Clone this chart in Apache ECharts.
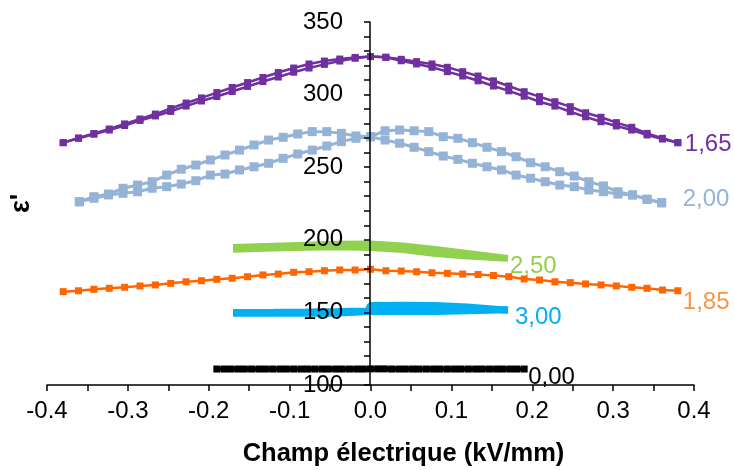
<!DOCTYPE html>
<html><head><meta charset="utf-8">
<script src="https://cdn.jsdelivr.net/npm/echarts@6/dist/echarts.min.js"></script>
<style>html,body{margin:0;padding:0;background:#fff}#c{width:734px;height:470px}</style>
</head><body><div id="c"></div>
<script>
// x grids (kV/mm)
const xPurpleOrange = [-0.38,-0.361,-0.342,-0.323,-0.304,-0.285,-0.266,-0.247,-0.228,-0.209,-0.19,-0.171,-0.152,-0.133,-0.114,-0.095,-0.076,-0.057,-0.038,-0.019,0,0.019,0.038,0.057,0.076,0.095,0.114,0.133,0.152,0.171,0.19,0.209,0.228,0.247,0.266,0.285,0.304,0.323,0.342,0.361,0.38];
const xLightBlue = [-0.36,-0.342,-0.324,-0.306,-0.288,-0.27,-0.252,-0.234,-0.216,-0.198,-0.18,-0.162,-0.144,-0.126,-0.108,-0.09,-0.072,-0.054,-0.036,-0.018,0,0.018,0.036,0.054,0.072,0.09,0.108,0.126,0.144,0.162,0.18,0.198,0.216,0.234,0.252,0.27,0.288,0.306,0.324,0.342,0.36];
const xBlack = [-0.19,-0.181,-0.173,-0.164,-0.156,-0.147,-0.138,-0.130,-0.121,-0.112,-0.104,-0.095,-0.086,-0.078,-0.069,-0.060,-0.052,-0.043,-0.035,-0.026,-0.017,-0.009,0,0.009,0.017,0.026,0.035,0.043,0.052,0.060,0.069,0.078,0.086,0.095,0.104,0.112,0.121,0.130,0.138,0.147,0.156,0.164,0.173,0.181,0.19];
const xGreen = [-0.17,-0.12,-0.08,-0.04,0,0.04,0.08,0.12,0.17];
const xBlueUpper = [-0.17,-0.12,-0.08,-0.04,-0.003,0,0.04,0.08,0.12,0.17];
const xBlueLower = [-0.17,-0.12,-0.08,-0.04,0,0.04,0.08,0.12,0.17];

// epsilon' values
const p165_up = [266.9,270.1,273.2,276.3,279.8,283.2,286.6,290.4,294.2,297.7,301.4,304.9,308.3,311.8,315.2,318.3,321.1,323.1,324.5,325.6,326.2,
  325.7,323.3,321.1,318.8,315.8,312.8,309.5,305.9,302.6,298.9,295.1,292.1,288.2,284.7,281.3,278.4,275.6,272.2,269.4,266.9];
const p165_down = [266.9,269.9,272.7,275.6,278.7,282.2,285.3,288.4,292.1,295.6,298.7,302.1,305.6,309,312.1,315.4,318.3,320.8,323.1,325,326.2,
  325.7,324.3,322.7,321.1,318.8,315.8,312.8,309.5,305.9,302,298.6,295.1,291.7,287.5,284.4,280.7,277.5,273.3,269.9,266.9];
const p200_a = [226.2,229.7,231.5,235.5,237.7,240,244.6,248.6,251.5,255,258.4,261.8,265.3,268.7,270.6,272.9,274.5,274.5,273.3,271.5,271,
  268.7,266.5,263.7,260.7,257.7,255.4,252.7,250.3,248.1,244.6,242.4,240,237.7,236.6,234.3,233.1,231.5,230.9,227.9,225.5];
const p200_b = [226.2,228.6,230.9,232,233.1,235.5,236.6,238.4,240.7,244.6,245.3,248.1,250.3,252.7,256.1,259.1,261.8,264.6,267.6,269.9,271,
  275.1,275.6,275.1,274.5,271,269.9,266.9,263.7,260.7,257.2,253.1,250.3,246.9,243.9,240,237.1,233.1,230.9,227.9,225.5];
const p250_top = [195,195.9,196.6,197.2,197.5,196.1,193.7,190.9,187.5];
const p250_bot = [193.2,194,194.6,194.9,194.4,193,190.2,188.5,187];
const p185 = [164.3,164.9,165.9,166.6,167.3,168.2,168.9,170,171.1,171.8,172.8,173.5,174.6,175.8,176.4,177.6,178,178.7,179.2,179.2,179.7,
  178.7,178.5,178,177.3,176.9,176.4,176.1,175.4,174.6,173,172.3,171.1,170.5,169.6,168.9,168.2,167.3,166.6,165.4,164.9];
const p300_up = [149.9,150.1,150.3,150.6,151,154.8,155,154.8,153.7,151.5];
const p300_low = [149.5,149.5,149.5,149.5,150.6,150.6,150.7,151.1,151.8];
const p000 = [111,111,111,111,111,111,111,111,111,111,111,111,111,111,111,111,111,111,111,111,111,111,111.1,111.1,111.1,111,111,111,111,111,111,111,111,111,111,111,111,111,111,111,111,111,111,111,111];

const labels = {p165:'1,65', p200:'2,00', p250:'2,50', p185:'1,85', p300:'3,00', p000:'0,00'};

const zip = (xs, ys) => xs.map((x, i) => [x, ys[i]]);
const FONT = 'Liberation Sans';

function lineSeries(data, color, o) {
  const s = {
    type: 'line', data: data, color: color,
    symbol: o.symbol || 'rect', symbolSize: o.size || 7,
    showSymbol: o.showSymbol !== false,
    lineStyle: {color: color, width: o.width || 2.5},
    itemStyle: {color: color},
    z: o.z || 2, silent: true
  };
  if (o.label) {
    s.endLabel = {show: true, formatter: o.label, color: o.labelColor || color,
      fontFamily: FONT, fontSize: 24, distance: o.dist || 5, offset: o.off || [0, 0]};
  }
  return s;
}

const chart = echarts.init(document.getElementById('c'), null, {renderer: 'canvas'});
chart.setOption({
  animation: false,
  backgroundColor: '#fff',
  grid: {left: 47, right: 40, top: 22, bottom: 85, containLabel: false, outerBoundsMode: 'none'},
  xAxis: {
    type: 'value', min: -0.4, max: 0.4, interval: 0.1,
    name: 'Champ électrique (kV/mm)', nameLocation: 'middle', nameGap: 56,
    nameTextStyle: {fontFamily: FONT, fontSize: 25.5, fontWeight: 'bold', color: '#000', padding: [0, 0, 0, 66]},
    axisLine: {show: true, onZero: false, lineStyle: {color: '#000', width: 1.5}},
    axisTick: {show: true, inside: false, length: 6, lineStyle: {color: '#000', width: 1.5}},
    minorTick: {show: true, splitNumber: 2, length: 6, lineStyle: {color: '#000', width: 1.5}},
    axisLabel: {fontFamily: FONT, fontSize: 24, color: '#000', margin: 14,
      formatter: v => v.toFixed(1)},
    splitLine: {show: false}
  },
  yAxis: {
    type: 'value', min: 100, max: 350, interval: 50, z: 10,
    offset: -323,
    name: "ε'", nameLocation: 'middle', nameRotate: 90, nameGap: 335,
    nameTextStyle: {fontFamily: FONT, fontSize: 27, fontWeight: 'bold', color: '#000'},
    axisLine: {show: true, onZero: false, lineStyle: {color: '#000', width: 1.5}},
    axisTick: {show: true, length: 6, lineStyle: {color: '#000', width: 1.5}},
    minorTick: {show: true, splitNumber: 5, length: 6, lineStyle: {color: '#000', width: 1.5}},
    axisLabel: {fontFamily: FONT, fontSize: 24, color: '#000', margin: 27},
    splitLine: {show: false}
  },
  series: [
    lineSeries(zip(xPurpleOrange, p165_up), '#7030A0', {}),
    lineSeries(zip(xPurpleOrange, p165_down), '#7030A0', {label: labels.p165, dist: 7, off: [0, 1.5]}),
    lineSeries(zip(xLightBlue, p200_a), '#95B3D7', {size: 9, width: 3}),
    lineSeries(zip(xLightBlue, p200_b), '#95B3D7', {size: 9, width: 3, label: labels.p200, dist: 21, off: [0, -3]}),
    lineSeries(zip(xGreen, p250_top), '#92D050', {showSymbol: false, width: 6}),
    lineSeries(zip(xGreen, p250_bot), '#92D050', {showSymbol: false, width: 6, label: labels.p250, dist: 2, off: [0, 8]}),
    lineSeries(zip(xPurpleOrange, p185), '#FF6600', {label: labels.p185, labelColor: '#F79646', dist: 5, off: [0, 12]}),
    lineSeries(zip(xBlueUpper, p300_up), '#00B0F0', {showSymbol: false, width: 7}),
    lineSeries(zip(xBlueLower, p300_low), '#00B0F0', {showSymbol: false, width: 7, label: labels.p300, dist: 7, off: [0, 8]}),
    lineSeries(zip(xBlack, p000), '#000000', {size: 7, width: 4, label: labels.p000, dist: 4, off: [0, 8]})
  ]
});
</script>
</body></html>
